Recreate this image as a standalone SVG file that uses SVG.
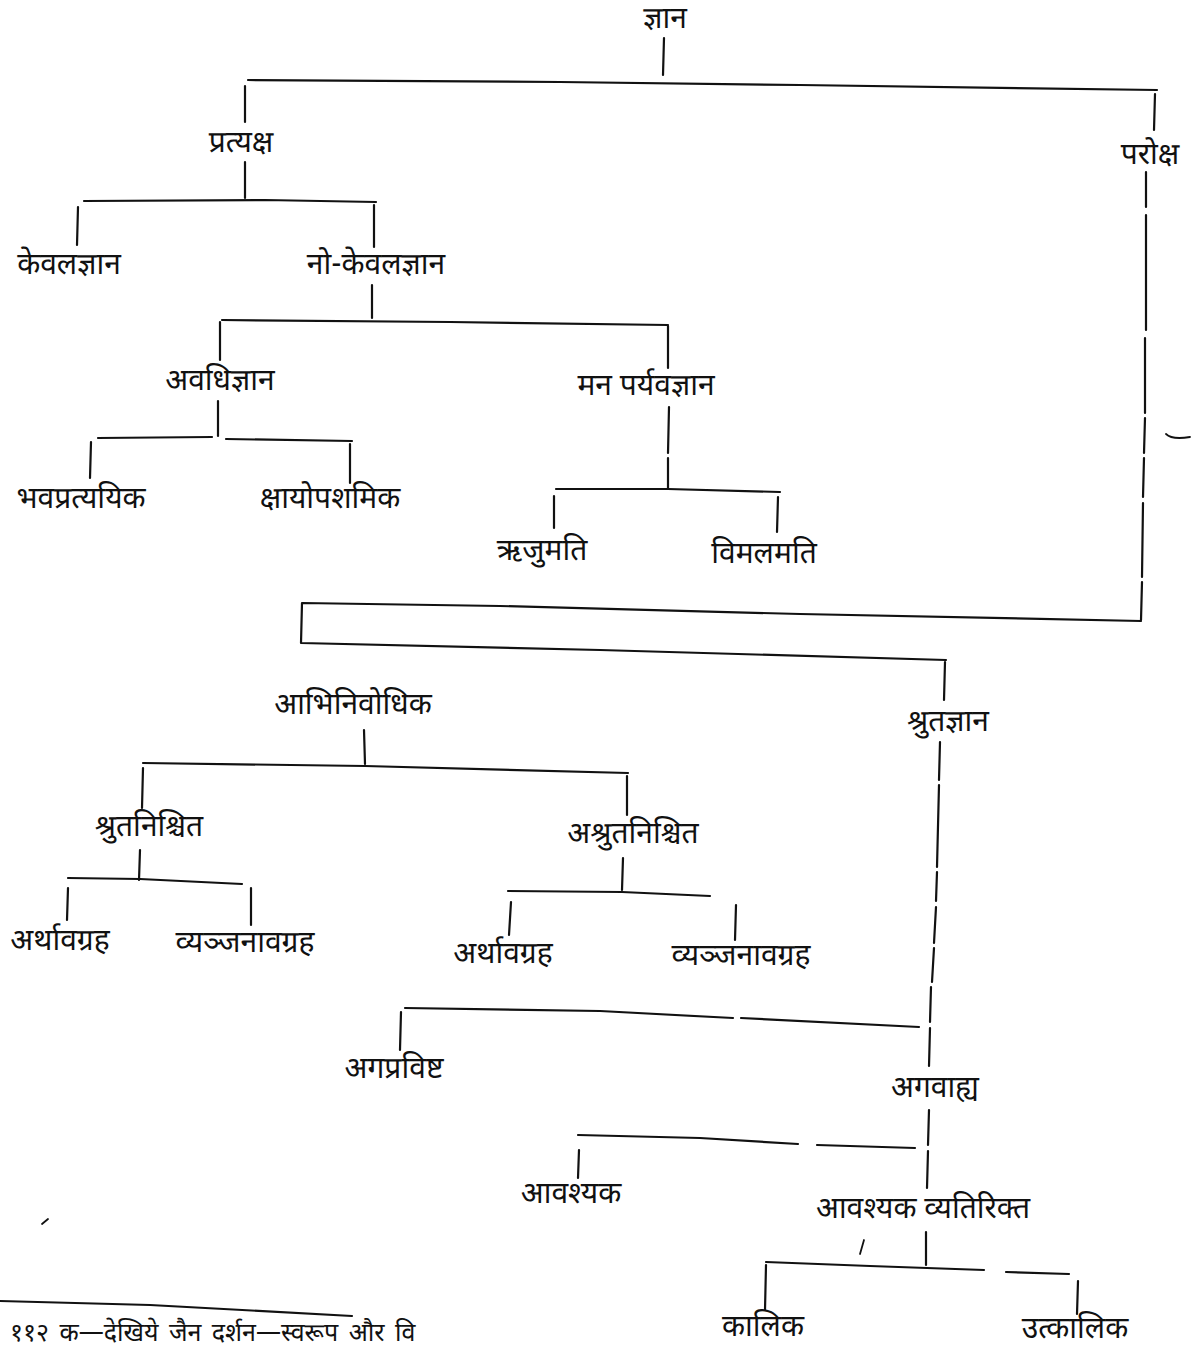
<svg xmlns="http://www.w3.org/2000/svg" width="1196" height="1349" viewBox="0 0 1196 1349">
<style>
  .t { font-family: "Noto Sans Devanagari", "Noto Serif Devanagari", "Lohit Devanagari", "Noto Sans", "DejaVu Sans", sans-serif; font-size: 30px; fill: #111; text-anchor: middle; }
  .ft { font-family: "Noto Sans Devanagari", "Noto Serif Devanagari", "Lohit Devanagari", "Noto Sans", "DejaVu Sans", sans-serif; font-size: 25px; word-spacing: 4px; fill: #111; }
  .c { fill: none; stroke: #111; stroke-width: 2.2; stroke-linecap: round; stroke-linejoin: round; }
  .m { fill: none; stroke: #111; stroke-width: 1.8; stroke-linecap: round; }
</style>
<rect width="1196" height="1349" fill="#ffffff"/>
<g id="connectors">
  <path class="c" d="M664 38 L663 75"/>
  <path class="c" d="M248 80 L560 82 L800 85 L1157 90"/>
  <path class="c" d="M245 86 L245 122"/>
  <path class="c" d="M1155 94 L1154 130"/>
  <path class="c" d="M1146 172 L1146 207 M1146 215 L1146 330 M1145 338 L1145 413 M1145 418 L1144 453 M1144 458 L1143 497 M1143 503 L1142 577 M1142 582 L1141 620"/>
  <path class="c" d="M245 162 L245 198"/>
  <path class="c" d="M84 201 L265 200 L376 202"/>
  <path class="c" d="M78 207 L77 245"/>
  <path class="c" d="M374 205 L374 247"/>
  <path class="c" d="M372 285 L372 318"/>
  <path class="c" d="M222 320 L450 322 L668 325"/>
  <path class="c" d="M220 322 L220 360"/>
  <path class="c" d="M668 326 L668 368"/>
  <path class="c" d="M218 401 L218 436"/>
  <path class="c" d="M98 438 L212 437 M226 439 L352 441"/>
  <path class="c" d="M91 442 L90 478"/>
  <path class="c" d="M350 444 L350 483"/>
  <path class="c" d="M669 407 L668 453 M668 458 L668 488"/>
  <path class="c" d="M556 489 L668 489 L780 492"/>
  <path class="c" d="M554 496 L554 528"/>
  <path class="c" d="M778 497 L777 532"/>
  <path class="c" d="M1141 621 L800 614 L500 606 L302 603 L301 643 L600 650 L946 660"/>
  <path class="c" d="M945 662 L944 700"/>
  <path class="c" d="M364 730 L365 764"/>
  <path class="c" d="M143 763 L365 766 L628 773"/>
  <path class="c" d="M143 768 L142 808"/>
  <path class="c" d="M627 776 L627 815"/>
  <path class="c" d="M140 850 L139 880"/>
  <path class="c" d="M68 878 L140 879 L242 884"/>
  <path class="c" d="M68 888 L67 920"/>
  <path class="c" d="M251 888 L251 925"/>
  <path class="c" d="M623 858 L622 890"/>
  <path class="c" d="M508 891 L622 892 L710 896"/>
  <path class="c" d="M511 902 L509 935"/>
  <path class="c" d="M736 905 L735 940"/>
  <path class="c" d="M940 742 L939 780 M939 785 L937 867 M937 872 L936 901 M936 907 L934 943 M934 948 L932 982 M931 987 L930 1022 M930 1028 L929 1066"/>
  <path class="c" d="M405 1008 L600 1011 L733 1018 M741 1018 L919 1027"/>
  <path class="c" d="M401 1012 L400 1050"/>
  <path class="c" d="M929 1110 L928 1145 M928 1151 L927 1188"/>
  <path class="c" d="M578 1135 L700 1138 L798 1144 M817 1145 L915 1148"/>
  <path class="c" d="M579 1150 L578 1178"/>
  <path class="c" d="M926 1232 L926 1265"/>
  <path class="c" d="M766 1262 L870 1266 L984 1270 M1006 1272 L1069 1274"/>
  <path class="c" d="M766 1265 L765 1310"/>
  <path class="c" d="M1078 1281 L1077 1314"/>
  <path class="c" d="M0 1301 L150 1305 L352 1316"/>
  <path class="m" d="M1166 434 Q1172 440 1190 437"/>
  <path class="m" d="M864 1240 L860 1254"/>
  <path class="m" d="M42 1224 L48 1219"/>
</g>
<g id="n-gyan"><text class="t" x="665" y="28">ज्ञान</text></g>
<g id="n-pratyaksha"><text class="t" x="241" y="152">प्रत्यक्ष</text></g>
<g id="n-paroksha"><text class="t" x="1150" y="164">परोक्ष</text></g>
<g id="n-kevalgyan"><text class="t" x="69" y="274">केवलज्ञान</text></g>
<g id="n-nokevalgyan"><text class="t" x="376" y="274">नो-केवलज्ञान</text></g>
<g id="n-avadhigyan"><text class="t" x="220" y="390">अवधिज्ञान</text></g>
<g id="n-manparyavgyan"><text class="t" x="646" y="395">मन पर्यवज्ञान</text></g>
<g id="n-bhavapratyayik"><text class="t" x="81" y="508">भवप्रत्ययिक</text></g>
<g id="n-kshayopashamik"><text class="t" x="330" y="508">क्षायोपशमिक</text></g>
<g id="n-rijumati"><text class="t" x="542" y="560">ऋजुमति</text></g>
<g id="n-vimalmati"><text class="t" x="764" y="563">विमलमति</text></g>
<g id="n-abhinibodhik"><text class="t" x="353" y="714">आभिनिवोधिक</text></g>
<g id="n-shrutgyan"><text class="t" x="948" y="731">श्रुतज्ञान</text></g>
<g id="n-shrutanishrit"><text class="t" x="149" y="836">श्रुतनिश्चित</text></g>
<g id="n-ashrutanishrit"><text class="t" x="633" y="843">अश्रुतनिश्चित</text></g>
<g id="n-arthavagraha1"><text class="t" x="60" y="950">अर्थावग्रह</text></g>
<g id="n-vyanjanavagraha1"><text class="t" x="245" y="952">व्यञ्जनावग्रह</text></g>
<g id="n-arthavagraha2"><text class="t" x="503" y="963">अर्थावग्रह</text></g>
<g id="n-vyanjanavagraha2"><text class="t" x="741" y="965">व्यञ्जनावग्रह</text></g>
<g id="n-angapravisht"><text class="t" x="394" y="1078">अगप्रविष्ट</text></g>
<g id="n-angavahya"><text class="t" x="935" y="1097">अगवाह्य</text></g>
<g id="n-avashyak"><text class="t" x="571" y="1203">आवश्यक</text></g>
<g id="n-avashyakvyatirikt"><text class="t" x="923" y="1218">आवश्यक व्यतिरिक्त</text></g>
<g id="n-kalik"><text class="t" x="763" y="1336">कालिक</text></g>
<g id="n-utkalik"><text class="t" x="1075" y="1338">उत्कालिक</text></g>
<g id="footnote"><text class="ft" x="10" y="1341">११२ क—देखिये जैन दर्शन—स्वरूप और वि</text></g>
</svg>
